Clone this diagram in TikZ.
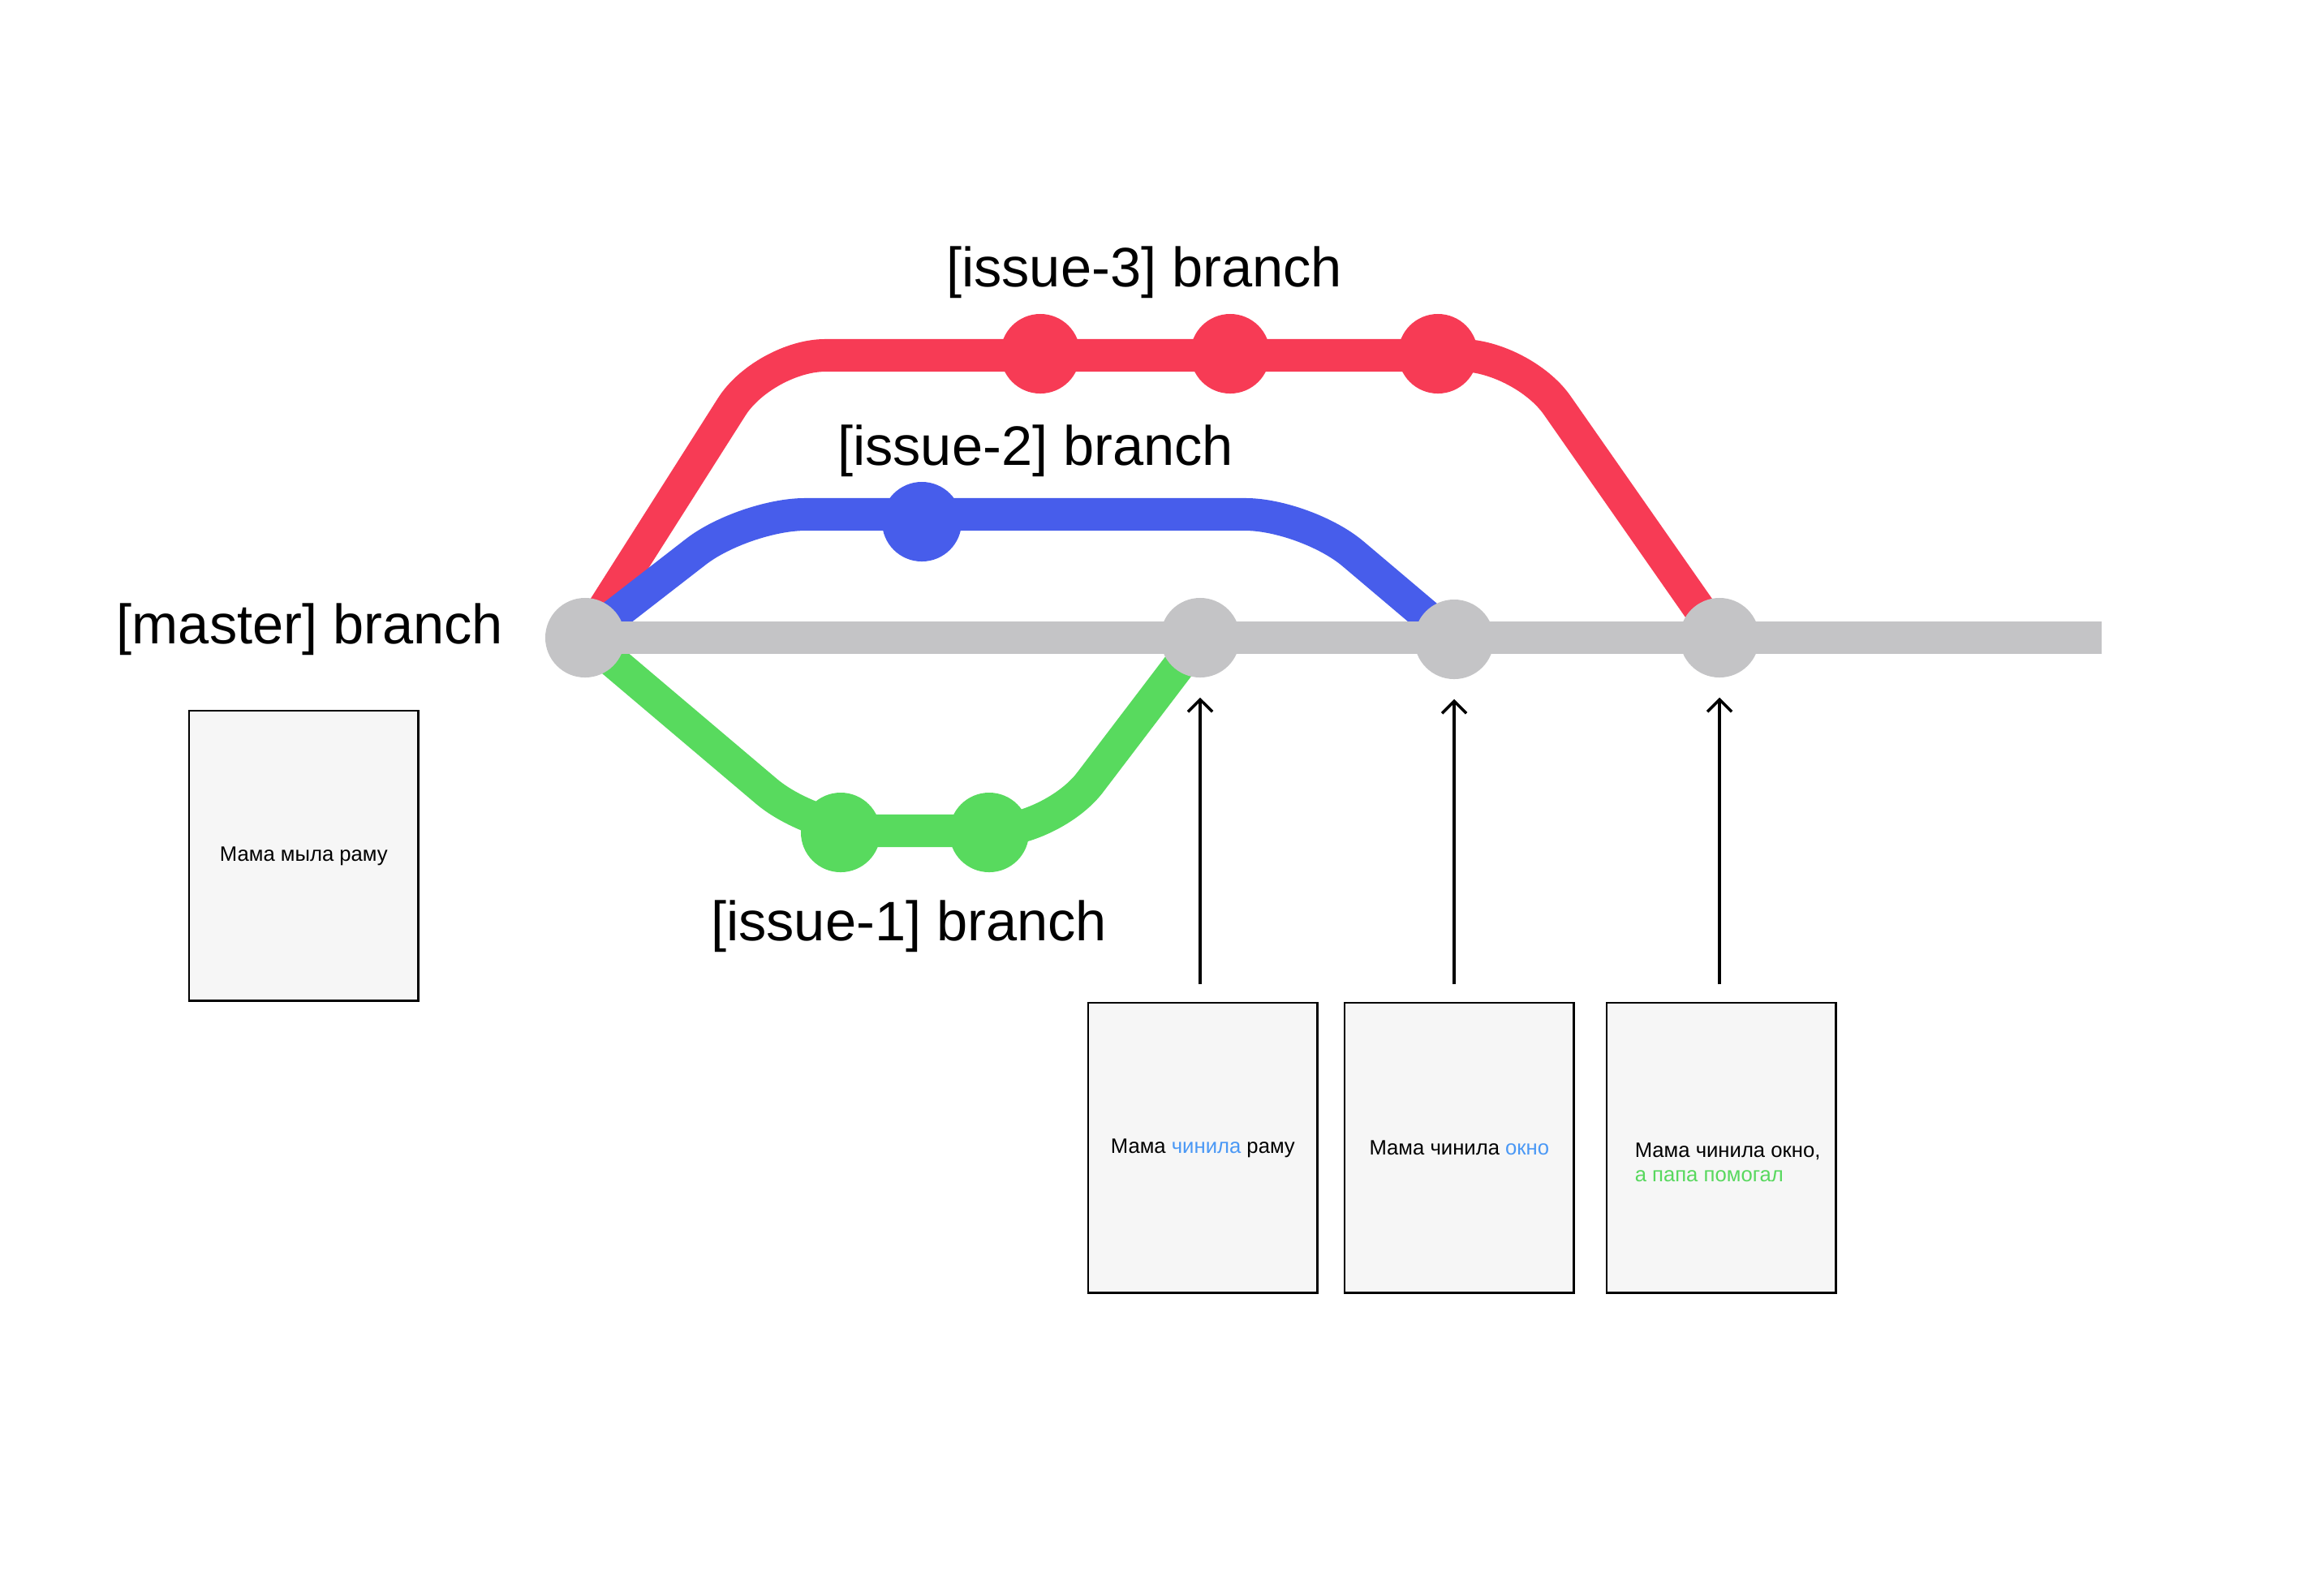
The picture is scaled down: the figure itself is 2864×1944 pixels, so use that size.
\documentclass[tikz,border=0pt]{standalone}
\usepackage{fontspec}
\setmainfont{Liberation Sans}
\usetikzlibrary{arrows.meta}
\definecolor{cred}{HTML}{F73B55}
\definecolor{cblue}{HTML}{475DEB}
\definecolor{cgreen}{HTML}{58DA5E}
\definecolor{cgray}{HTML}{C4C4C6}
\definecolor{cardfill}{HTML}{F6F6F6}
\definecolor{tblue}{HTML}{4A98F5}
\definecolor{tgreen}{HTML}{58D85E}
\pgfdeclarelayer{bg}
\pgfsetlayers{bg,main}
\begin{document}
\begin{tikzpicture}[x=0.01cm,y=-0.01cm,
  commit/.style={circle, inner sep=0pt, minimum size=0.98cm},
  branchline/.style={line width=11.4pt, rounded corners=0.75cm, line join=round},
  lbl/.style={font=\fontsize{19.5}{23}\selectfont, inner sep=0pt},
  card/.style={draw=black, line width=0.7pt, fill=cardfill, minimum width=2.82cm, minimum height=3.57cm, inner sep=0pt, anchor=north west},
  cardtext/.style={font=\fontsize{7.3}{8.6}\selectfont, inner sep=0pt},
  arr/.style={-{Straight Barb[length=0.15cm,width=0.3cm]}, line width=1pt, shorten <=0.22cm, shorten >=0.24cm}
]
\path[use as bounding box] (0,0) rectangle (2864,1944);

% commits on master
\node[commit, fill=cgray] (m0) at (721,786) {};
\node[commit, fill=cgray] (m1) at (1479,786) {};
\node[commit, fill=cgray] (m2) at (1792,788) {};
\node[commit, fill=cgray] (m3) at (2119,786) {};
\coordinate (mend) at (2590,786);

% issue-3 commits
\node[commit, fill=cred] (r1) at (1282,436) {};
\node[commit, fill=cred] (r2) at (1516,436) {};
\node[commit, fill=cred] (r3) at (1772,436) {};
% issue-2 commit
\node[commit, fill=cblue] (b1) at (1136,643) {};
% issue-1 commits
\node[commit, fill=cgreen] (g1) at (1036,1026) {};
\node[commit, fill=cgreen] (g2) at (1219,1026) {};

% labels
\node[lbl] (l3) at (1410,336) {[issue-3] branch};
\node[lbl] (l2) at (1276,556) {[issue-2] branch};
\node[lbl] (lm) at (382,776) {[master] branch};
\node[lbl] (l1) at (1120,1142) {[issue-1] branch};

\begin{pgfonlayer}{bg}
  \draw[branchline, cred] (m0.center) -- (942,438) -- (1876,438) -- (m3.center);
  \draw[branchline, cblue] (m0.center) -- (917,634) -- (1610,634) -- (m2.center);
  \draw[branchline, cgreen] (m0.center) -- (1002,1024) -- (1298,1024) -- (m1.center);
  \draw[line width=11.4pt, cgray, line cap=butt] (m0.center) -- (mend);
\end{pgfonlayer}

% cards
\node[card] (c0) at (232,875) {};
\node[cardtext] (t0) at (c0.center) {Мама мыла раму};
\node[card] (c1) at (1340,1235) {};
\node[cardtext] (t1) at (c1.center) {Мама \textcolor{tblue}{чинила} раму};
\node[card] (c2) at (1656,1235) {};
\node[cardtext] (t2) at (c2.center) {Мама чинила \textcolor{tblue}{окно}};
\node[card] (c3) at (1979,1235) {};
\node[cardtext, align=left, anchor=west] (t3) at ([xshift=0.35cm,yshift=-0.18cm]c3.west) {Мама чинила окно,\\\textcolor{tgreen}{а папа помогал}};

% arrows
\draw[arr] (c1.north -| m1) -- (m1.south);
\draw[arr] (c2.north -| m2) -- (m2.south);
\draw[arr] (c3.north -| m3) -- (m3.south);
\end{tikzpicture}
\end{document}
